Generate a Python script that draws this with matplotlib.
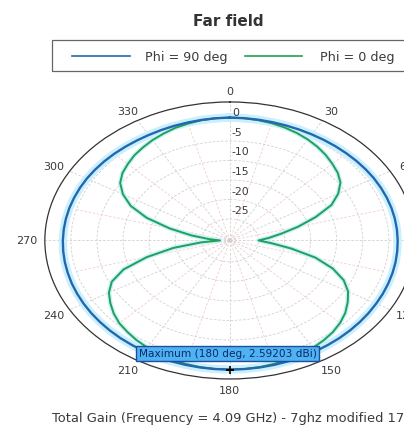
import numpy as np
import matplotlib
matplotlib.use("Agg")
import matplotlib.pyplot as plt
from matplotlib.transforms import offset_copy
from matplotlib.patches import Rectangle
from matplotlib.lines import Line2D

plt.rcParams['font.family'] = ['DejaVu Sans']

# ---- data -------------------------------------------------------------
title = "Far field"
series_names = ["Phi = 90 deg", "Phi = 0 deg"]
footer = "Total Gain (Frequency = 4.09 GHz) - 7ghz modified 17"

# theta 0..360 in 5 degree steps, shared by both cuts
theta_deg = list(range(0, 365, 5))

# Phi = 90 deg cut (gain in dBi)
gain_phi90 = [
    1.0, 0.97, 0.93, 0.9, 0.88, 0.88, 0.9, 0.95, 1.02, 1.1,        # 0-45
    1.2, 1.3, 1.4, 1.47, 1.54, 1.6, 1.64, 1.67, 1.7,               # 50-90
    1.73, 1.77, 1.8, 1.83, 1.87, 1.9, 1.97, 2.03, 2.1,             # 95-135
    2.17, 2.23, 2.3, 2.37, 2.44, 2.5, 2.55, 2.58, 2.59,            # 140-180
    2.58, 2.55, 2.5, 2.44, 2.37, 2.3, 2.23, 2.17, 2.1,             # 185-225
    2.03, 1.97, 1.9, 1.83, 1.77, 1.7, 1.65, 1.6, 1.55,             # 230-270
    1.5, 1.45, 1.4, 1.33, 1.27, 1.2, 1.1, 1.0, 0.9,                # 275-315
    0.8, 0.73, 0.7, 0.72, 0.76, 0.8, 0.87, 0.94, 1.0,              # 320-360
]

# Phi = 0 deg cut (gain in dBi)
gain_phi0 = [
    1.0, 0.95, 0.8, 0.6, 0.3, -0.1, -0.6, -1.2, -1.9, -2.7,       # 0-45
    -3.5, -4.6, -6.5, -9.0, -13.0, -17.0, -20.5, -23.0, -25.0,     # 50-90
    -22.5, -18.5, -13.5, -9.5, -6.4, -4.3, -2.9, -1.6, -0.6,       # 95-135
    0.2, 0.8, 1.3, 1.7, 2.0, 2.25, 2.45, 2.55, 2.59,               # 140-180
    2.55, 2.45, 2.25, 2.0, 1.65, 1.2, 0.7, 0.1, -0.5,              # 185-225
    -1.4, -2.5, -3.7, -5.5, -8.8, -14.0, -19.5, -25.0, -28.6,      # 230-270
    -26.5, -23.0, -18.5, -13.5, -9.5, -6.8, -4.8, -3.6, -2.8,      # 275-315
    -2.0, -1.4, -0.8, -0.3, 0.2, 0.5, 0.8, 0.95, 1.0,              # 320-360
]

max_theta = 180
max_gain = 2.59203

ring_values = [0, -5, -10, -15, -20, -25, -30]
ring_labels = ["0", "-5", "-10", "-15", "-20", "-25"]
angle_ticks = list(range(0, 360, 30))
angle_labels = [str(a) for a in angle_ticks]
r_min, r_max = -30.5, 5.0

# ---- figure -----------------------------------------------------------
fig = plt.figure(figsize=(4.04, 4.31), dpi=100)
ax = fig.add_axes([0.111, 0.1184, 0.916, 0.6427], projection='polar')
ax.set_aspect('auto')
ax.set_theta_zero_location('N')
ax.set_theta_direction(-1)
ax.set_rlim(r_min, r_max)

ax.set_thetagrids(angle_ticks, [''] * len(angle_ticks))
ax.set_rticks(ring_values)
ax.set_yticklabels([])
ax.grid(True, linestyle=(0, (3, 2)), color='#d0d0d0', linewidth=0.6)

# angle labels on an ellipse just outside the outer ring
for a, s in zip(angle_ticks, angle_labels):
    rad = np.deg2rad(a)
    ax.text(0.5 + 0.55 * np.sin(rad), 0.5 + 0.541 * np.cos(rad), s,
            transform=ax.transAxes, ha='center', va='center',
            fontsize=8, color='#3a3a3a', clip_on=False)

# minor spokes every 15 degrees
for a in range(15, 360, 30):
    ax.plot([np.deg2rad(a)] * 2, [r_min, 0], color='#f3cccc',
            linestyle=(0, (3, 2)), linewidth=0.6, zorder=1)

ax.spines['polar'].set_color('#333333')
ax.spines['polar'].set_linewidth(0.9)

# radial level labels above each ring
lab_tr = offset_copy(ax.transData, fig=fig, x=2, y=9, units='dots')
for v, s in zip(ring_values, ring_labels):
    ax.text(0, v, s, transform=lab_tr, fontsize=7.8, color='#3a3a3a',
            ha='left', va='center')

t = np.deg2rad(theta_deg)
blue = '#2467ad'
green = '#21a153'
halo = '#caf0ff'

ax.plot(t, gain_phi90, color=halo, linewidth=6, zorder=2)
ax.plot(t, gain_phi0, color=halo, linewidth=3.4, zorder=2)
ax.plot(t, gain_phi0, color=green, linewidth=1.4, zorder=3)
ax.plot(t, gain_phi90, color=blue, linewidth=1.7, zorder=4)

# maximum marker and annotation
ax.plot([np.deg2rad(max_theta)], [max_gain], marker='+', color='black',
        markersize=6, markeredgewidth=1.2, zorder=6)
ax.annotate(f"Maximum ({max_theta} deg, {max_gain} dBi)",
            xy=(np.deg2rad(max_theta), max_gain),
            xytext=(227.5 / 404, 1 - 354.5 / 431), textcoords='figure fraction',
            ha='center', va='center', fontsize=7.6, color='#0d2a66',
            bbox=dict(boxstyle='square,pad=0.2', fc='#4fb2f2',
                      ec='#1d4f9c', lw=1.0),
            zorder=7, annotation_clip=False)

# title
fig.text(228 / 404, 1 - 21 / 431, title, ha='center', va='center',
         fontsize=11, fontweight='bold', color='#333333')

# legend frame and entries
fig.patches.append(Rectangle((52 / 404, 1 - 72 / 431), 0.95, 31 / 431,
                             transform=fig.transFigure, fill=False,
                             ec='#666666', lw=0.9))
ly = 1 - 57 / 431
for (x0, x1, tx), name, col in zip([(72, 130, 145), (245, 302, 320)],
                                   series_names, [blue, green]):
    fig.lines.append(Line2D([x0 / 404, x1 / 404], [ly, ly],
                            transform=fig.transFigure, color=col, lw=1.2))
    fig.text(tx / 404, ly, name, ha='left', va='center', fontsize=9.2,
             color='#3a3a3a')

# footer
fig.text(52 / 404, 1 - 419 / 431, footer, ha='left', va='center',
         fontsize=9.4, color='#3a3a3a')

fig.savefig('out.png', dpi=100)
